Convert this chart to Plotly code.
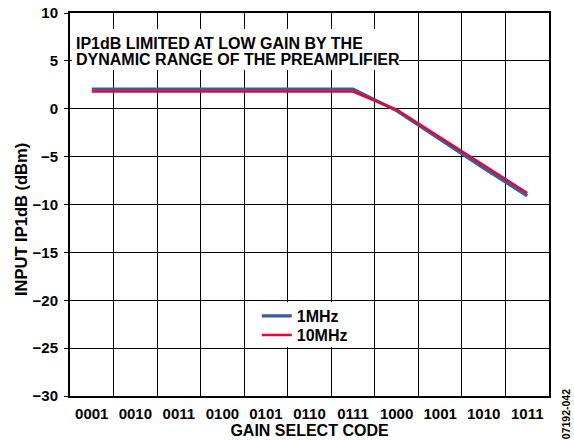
import plotly.graph_objects as go

codes = ["0001", "0010", "0011", "0100", "0101", "0110", "0111", "1000", "1001", "1010", "1011"]
ip1db_1mhz = [2.05, 2.05, 2.05, 2.05, 2.05, 2.05, 2.05, -0.2, -3.2, -6.2, -9.1]
ip1db_10mhz = [1.8, 1.8, 1.8, 1.8, 1.8, 1.8, 1.8, -0.1, -3.0, -5.9, -8.8]
y_ticks = [10, 5, 0, -5, -10, -15, -20, -25, -30]
note_lines = ["IP1dB LIMITED AT LOW GAIN BY THE", "DYNAMIC RANGE OF THE PREAMPLIFIER"]

pos = list(range(1, len(codes) + 1))
FONT = "Liberation Sans, Arial, sans-serif"
BOLD16 = dict(family=FONT, size=16, color="black", weight="bold")
BOLD15 = dict(family=FONT, size=15, color="black", weight="bold")

fig = go.Figure()
fig.add_trace(go.Scatter(x=pos, y=ip1db_1mhz, mode="lines", name="1MHz", legend="legend",
                         line=dict(color="#3a5c9c", width=3.2)))
fig.add_trace(go.Scatter(x=pos, y=ip1db_10mhz, mode="lines", name="10MHz", legend="legend2",
                         line=dict(color="#e2063a", width=2.6)))

legend_common = dict(xanchor="left", yanchor="top", bgcolor="rgba(0,0,0,0)", borderwidth=0,
                     font=BOLD16, itemwidth=30)

fig.update_layout(
    width=574, height=440,
    margin=dict(l=70, r=25, t=13, b=44, autoexpand=False),
    paper_bgcolor="white", plot_bgcolor="white",
    font=BOLD15,
    showlegend=True,
    legend=dict(x=0.39, y=0.2535, **legend_common),
    legend2=dict(x=0.39, y=0.2035, **legend_common),
    xaxis=dict(range=[0.5, len(codes) + 0.5], tickmode="array", tickvals=pos, ticktext=codes,
               showgrid=False, zeroline=False, automargin=False,
               showline=True, linecolor="black", linewidth=2, mirror=True,
               ticks="", tickfont=BOLD15, ticklabelstandoff=3,
               minor=dict(tick0=0.5, dtick=1, showgrid=True, gridcolor="black", gridwidth=1.3, ticks=""),
               title=dict(text="GAIN SELECT CODE", standoff=1, font=BOLD16)),
    yaxis=dict(range=[-30, 10], tickmode="array", tickvals=y_ticks,
               ticktext=[str(v).replace("-", "\u2212") for v in y_ticks],
               showgrid=True, gridcolor="black", gridwidth=1.3, zeroline=False, automargin=False,
               showline=True, linecolor="black", linewidth=2, mirror=True,
               ticks="outside", ticklen=4, tickcolor="black", tickwidth=1.3,
               ticklabelstandoff=3, tickfont=BOLD15),
)

# y-axis title
fig.add_annotation(xref="paper", yref="paper", x=-0.102, y=0.46, xanchor="center", yanchor="middle",
                   text="INPUT IP1dB (dBm)", textangle=-90, showarrow=False,
                   font=dict(family=FONT, size=16.5, color="black", weight="bold"))

# white box behind the note
fig.add_shape(type="rect", xref="paper", yref="paper", x0=0.004, x1=0.687, y0=0.851, y1=0.958,
              fillcolor="white", line=dict(width=0), layer="above")
for i, line_text in enumerate(note_lines):
    fig.add_annotation(xref="paper", yref="paper", x=0.0105, y=[0.921, 0.878][i],
                       xanchor="left", yanchor="middle", text=line_text,
                       showarrow=False, borderpad=0, font=BOLD16)

# white box behind the legend
fig.add_shape(type="rect", xref="paper", yref="paper", x0=0.397, x1=0.578, y0=0.128, y1=0.245,
              fillcolor="white", line=dict(width=0), layer="above")

fig.add_annotation(xref="paper", yref="paper", x=1.0355, y=-0.118, xanchor="center", yanchor="bottom",
                   text="07192-042", textangle=-90, showarrow=False,
                   font=dict(family=FONT, size=10.5, color="black"))

fig.write_html("out.html", config={"displayModeBar": False},
               post_script="document.body.style.margin='0px';")
